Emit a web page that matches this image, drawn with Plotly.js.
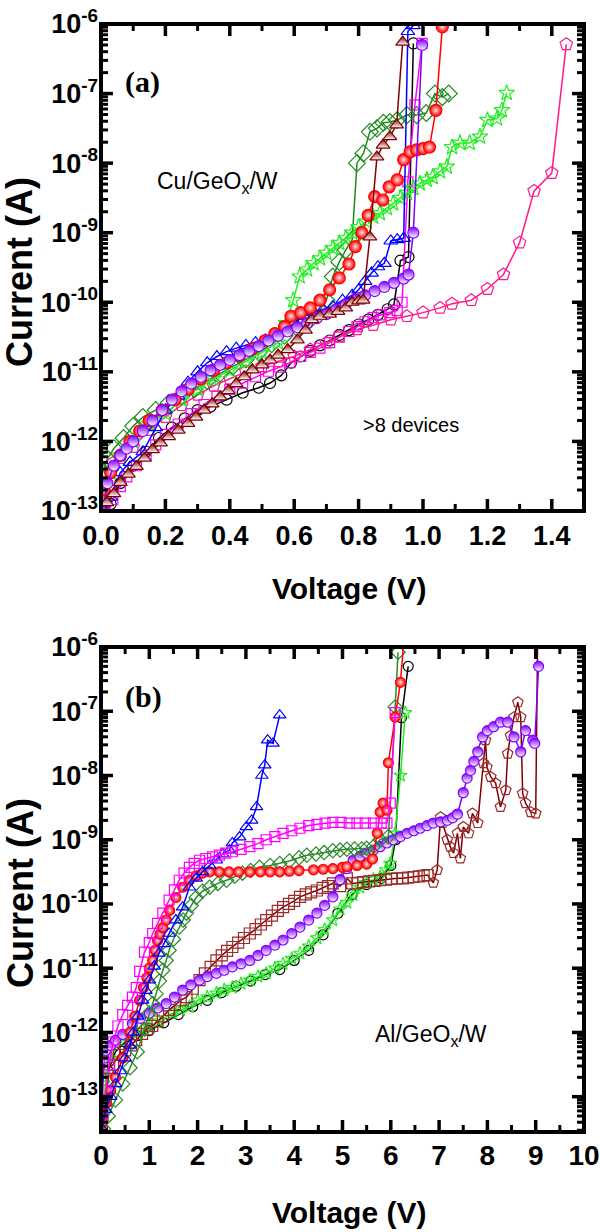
<!DOCTYPE html>
<html><head><meta charset="utf-8">
<script src="https://cdn.plot.ly/plotly-3.0.1.min.js"></script>
<style>html,body{margin:0;padding:0;background:#fff}#chart{width:600px;height:1232px}</style>
</head><body><div id="chart"></div>
<script>
// ---------- Panel (a): Cu/GeOx/W ----------
const aBlackV = [0.01,0.03,0.06,0.10,0.14,0.18,0.22,0.26,0.30,0.34,0.39,0.44,0.49,0.525,0.56,0.59,0.62,0.65,0.68,0.71,0.74,0.77,0.80,0.83,0.86,0.89,0.91,0.93,0.955,0.97];
const aBlackI = [7.9e-14,1.26e-13,2.51e-13,4.47e-13,7.1e-13,1.12e-12,1.58e-12,2.14e-12,2.82e-12,3.16e-12,3.98e-12,5.0e-12,5.9e-12,6.9e-12,8.9e-12,1.35e-11,1.66e-11,2.0e-11,2.4e-11,2.82e-11,3.39e-11,3.98e-11,4.79e-11,5.62e-11,6.6e-11,7.94e-11,9.3e-11,3.98e-10,4.47e-10,5.25e-7];

const aMagV = [0.01,0.037,0.06,0.08,0.11,0.14,0.17,0.20,0.24,0.28,0.32,0.36,0.40,0.44,0.48,0.52,0.555,0.587,0.62,0.65,0.68,0.71,0.74,0.77,0.795,0.82,0.845,0.87,0.897,0.92,0.935,0.953,0.975,0.997];
const aMagI = [6.3e-14,1.45e-13,2.24e-13,3.09e-13,4.47e-13,6.3e-13,8.9e-13,1.26e-12,1.78e-12,2.51e-12,3.39e-12,4.47e-12,5.62e-12,6.9e-12,8.5e-12,1.02e-11,1.17e-11,1.35e-11,1.66e-11,1.9e-11,2.19e-11,2.63e-11,3.16e-11,3.8e-11,4.47e-11,5.25e-11,6.0e-11,6.6e-11,7.1e-11,7.6e-11,1.0e-10,5.4e-9,6.9e-8,5.25e-7];

const aPinkV = [0.01,0.037,0.06,0.10,0.15,0.20,0.25,0.30,0.35,0.40,0.45,0.50,0.55,0.60,0.65,0.70,0.74,0.795,0.845,0.90,0.95,1.0,1.053,1.09,1.15,1.2,1.25,1.30,1.345,1.40,1.445];
const aPinkI = [1.26e-13,4.9e-13,5.75e-13,8.3e-13,1.45e-12,2.24e-12,3.31e-12,4.68e-12,6.3e-12,7.94e-12,1.0e-11,1.2e-11,1.41e-11,1.66e-11,2.09e-11,2.63e-11,3.24e-11,4.07e-11,4.68e-11,5.62e-11,6.3e-11,7.1e-11,8.3e-11,9.5e-11,1.07e-10,1.55e-10,2.51e-10,7.2e-10,3.98e-9,7.2e-9,5.1e-7];

const aDiaV = [0.005,0.02,0.04,0.07,0.10,0.13,0.17,0.21,0.25,0.29,0.33,0.37,0.41,0.45,0.49,0.53,0.57,0.61,0.65,0.68,0.70,0.72,0.74,0.76,0.78,0.795,0.815,0.835,0.857,0.877,0.897,0.92,0.95,0.98,1.01,1.037,1.06,1.08];
const aDiaI = [3.55e-13,5.62e-13,7.94e-13,1.12e-12,1.66e-12,2.24e-12,2.82e-12,3.55e-12,4.47e-12,5.62e-12,7.4e-12,9.5e-12,1.2e-11,1.51e-11,1.9e-11,2.5e-11,3.3e-11,4.2e-11,5.62e-11,7.8e-11,1.07e-10,2.34e-10,3.8e-10,5.62e-10,7.94e-10,1.0e-8,1.38e-8,2.82e-8,3.16e-8,3.8e-8,3.9e-8,4.17e-8,4.9e-8,4.9e-8,5.25e-8,1.0e-7,8.9e-8,1.0e-7];

const aStarV = [0.005,0.03,0.06,0.10,0.15,0.20,0.25,0.30,0.35,0.40,0.45,0.50,0.55,0.575,0.597,0.617,0.64,0.66,0.68,0.70,0.72,0.74,0.76,0.78,0.80,0.825,0.845,0.866,0.888,0.907,0.93,0.95,0.97,0.99,1.012,1.03,1.053,1.074,1.09,1.115,1.145,1.177,1.20,1.23,1.245,1.26];
const aStarI = [1.58e-13,3.55e-13,6.3e-13,1.0e-12,1.78e-12,2.51e-12,3.98e-12,5.62e-12,7.94e-12,1.05e-11,1.41e-11,1.9e-11,2.63e-11,5.0e-11,1.07e-10,2.34e-10,2.95e-10,3.63e-10,4.27e-10,5.1e-10,6.0e-10,7.1e-10,8.3e-10,1.0e-9,1.2e-9,1.45e-9,1.7e-9,1.9e-9,2.24e-9,2.63e-9,3.16e-9,3.72e-9,4.37e-9,5.1e-9,5.75e-9,6.3e-9,7.6e-9,8.9e-9,1.7e-8,1.95e-8,1.95e-8,2.4e-8,4.17e-8,4.37e-8,5.75e-8,1.02e-7];

const aBlueV = [0.01,0.03,0.06,0.09,0.13,0.17,0.20,0.24,0.27,0.30,0.33,0.36,0.39,0.42,0.45,0.48,0.51,0.54,0.57,0.60,0.63,0.66,0.69,0.72,0.75,0.78,0.80,0.82,0.84,0.86,0.88,0.90,0.92,0.94,0.953,0.97];
const aBlueI = [7.9e-14,1.58e-13,3.55e-13,5.0e-13,7.1e-13,1.58e-12,2.82e-12,4.47e-12,7.1e-12,1.0e-11,1.35e-11,1.66e-11,1.95e-11,2.19e-11,2.4e-11,2.63e-11,2.88e-11,3.24e-11,3.98e-11,5.0e-11,6.3e-11,7.2e-11,7.94e-11,8.7e-11,1.07e-10,1.26e-10,1.51e-10,2.0e-10,2.63e-10,3.24e-10,3.63e-10,7.6e-10,7.94e-10,8.3e-10,7.8e-7,9.5e-7];

const aRedV = [0.01,0.03,0.06,0.09,0.12,0.15,0.19,0.23,0.27,0.31,0.35,0.39,0.43,0.47,0.51,0.54,0.57,0.59,0.62,0.65,0.68,0.71,0.74,0.77,0.79,0.81,0.83,0.85,0.875,0.895,0.92,0.94,0.96,0.98,1.0,1.02,1.04,1.06];
const aRedI = [2.0e-13,3.55e-13,6.3e-13,1.0e-12,1.41e-12,2.0e-12,2.82e-12,3.98e-12,5.62e-12,7.94e-12,1.05e-11,1.35e-11,1.7e-11,2.14e-11,2.82e-11,3.55e-11,4.47e-11,6.3e-11,7.08e-11,8.3e-11,1.07e-10,1.51e-10,2.24e-10,3.55e-10,6.3e-10,1.0e-9,1.78e-9,3.3e-9,2.95e-9,4.57e-9,5.75e-9,1.12e-8,1.45e-8,1.55e-8,1.62e-8,1.7e-8,5.75e-8,9.1e-7];

const aPurV = [0.005,0.02,0.04,0.06,0.08,0.10,0.13,0.16,0.19,0.22,0.25,0.28,0.31,0.34,0.37,0.40,0.43,0.46,0.49,0.52,0.55,0.58,0.61,0.64,0.67,0.70,0.73,0.76,0.79,0.82,0.85,0.88,0.91,0.94,0.955,0.97,0.997];
const aPurI = [1.0e-13,2.5e-13,4.5e-13,6.3e-13,7.9e-13,1.0e-12,1.41e-12,2.0e-12,2.82e-12,3.98e-12,5.25e-12,6.76e-12,8.5e-12,1.05e-11,1.26e-11,1.48e-11,1.74e-11,2.0e-11,2.34e-11,2.82e-11,3.31e-11,3.8e-11,4.37e-11,5.0e-11,5.9e-11,6.76e-11,7.94e-11,9.3e-11,1.1e-10,1.26e-10,1.45e-10,1.66e-10,1.9e-10,2.19e-10,2.5e-10,1.0e-9,5.0e-7];

const aMarV = [0.005,0.018,0.04,0.06,0.085,0.11,0.135,0.16,0.185,0.21,0.24,0.27,0.295,0.32,0.345,0.37,0.395,0.42,0.445,0.47,0.50,0.525,0.55,0.58,0.61,0.635,0.655,0.68,0.71,0.736,0.76,0.78,0.80,0.814,0.835,0.857,0.876,0.897,0.918,0.937];
const aMarI = [6.3e-14,1.32e-13,1.78e-13,2.57e-13,3.39e-13,4.37e-13,5.75e-13,7.6e-13,9.5e-13,1.17e-12,1.45e-12,1.82e-12,2.24e-12,2.82e-12,3.47e-12,4.37e-12,5.37e-12,6.76e-12,8.5e-12,1.07e-11,1.26e-11,1.48e-11,1.74e-11,2.09e-11,2.88e-11,3.98e-11,5.62e-11,6.3e-11,6.76e-11,7.4e-11,8.3e-11,1.0e-10,1.05e-10,1.07e-10,8.7e-10,1.23e-8,1.82e-8,2.4e-8,3.55e-8,5.5e-7];

// ---------- Panel (b): Al/GeOx/W ----------
const bBlackV = [0.03,0.15,0.3,0.5,0.75,1.0,1.3,1.6,1.9,2.2,2.5,2.8,3.1,3.4,3.7,4.0,4.3,4.6,4.9,5.2,5.5,5.8,6.0,6.1,6.22,6.36];
const bBlackI = [3.16e-14,2.51e-13,5.0e-13,7.1e-13,8.9e-13,1.07e-12,1.41e-12,1.9e-12,2.51e-12,3.16e-12,4.17e-12,5.25e-12,6.3e-12,7.94e-12,9.5e-12,1.32e-11,1.9e-11,3.31e-11,7.1e-11,1.41e-10,2.0e-10,2.51e-10,3.98e-10,1.0e-9,7.94e-8,5.0e-7];

const bStarV = [0.03,0.1,0.2,0.37,0.55,0.75,1.0,1.2,1.48,1.65,1.83,2.0,2.2,2.39,2.55,2.72,2.9,3.08,3.25,3.42,3.6,3.77,3.95,4.12,4.3,4.47,4.63,4.8,4.95,5.09,5.22,5.36,5.5,5.64,5.78,5.9,5.99,6.09,6.2,6.3];
const bStarI = [4.0e-14,2.0e-13,3.98e-13,7.6e-13,8.9e-13,1.0e-12,1.2e-12,1.51e-12,2.0e-12,2.24e-12,2.51e-12,3.16e-12,3.55e-12,4.07e-12,4.57e-12,5.0e-12,5.75e-12,6.5e-12,7.4e-12,8.3e-12,1.0e-11,1.17e-11,1.41e-11,1.7e-11,2.19e-11,2.95e-11,3.98e-11,5.62e-11,8.3e-11,1.05e-10,1.38e-10,1.82e-10,2.14e-10,2.4e-10,2.63e-10,3.39e-10,4.27e-10,1.26e-9,1.0e-8,9.5e-8];

const bBrownV = [0.03,0.1,0.17,0.25,0.37,0.5,0.62,0.73,0.85,0.95,1.06,1.17,1.28,1.41,1.53,1.65,1.77,1.9,2.04,2.15,2.27,2.39,2.5,2.61,2.72,2.84,2.96,3.08,3.2,3.31,3.42,3.54,3.66,3.77,3.89,4.0,4.12,4.24,4.35,4.47,4.59,4.7,4.8,4.95,5.09,5.2,5.31,5.43,5.55,5.66,5.78,5.9,6.01,6.13,6.25,6.36,6.47,6.58,6.68,6.76,
  6.88,6.96,7.03,7.07,7.17,7.23,7.3,7.38,7.44,7.5,7.61,7.69,7.8,7.92,7.96,7.99,8.07,8.17,8.27,8.38,8.42,8.48,8.55,8.63,8.69,8.73,8.79,8.9,9.0,9.04];
const bBrownI = [5.0e-14,8.7e-14,2.8e-13,3.16e-13,4.47e-13,5.25e-13,6.3e-13,7.6e-13,9.5e-13,1.12e-12,1.26e-12,1.48e-12,1.78e-12,2.24e-12,2.69e-12,3.16e-12,3.55e-12,4.79e-12,6.5e-12,8.3e-12,1.05e-11,1.32e-11,1.58e-11,1.86e-11,2.14e-11,2.51e-11,2.95e-11,3.47e-11,4.07e-11,4.79e-11,5.62e-11,6.6e-11,7.8e-11,8.9e-11,1.0e-10,1.12e-10,1.29e-10,1.41e-10,1.51e-10,1.62e-10,1.78e-10,1.9e-10,2.09e-10,1.9e-10,2.51e-10,2.09e-10,2.14e-10,2.19e-10,2.24e-10,2.29e-10,2.34e-10,2.4e-10,2.45e-10,2.51e-10,2.51e-10,2.57e-10,2.63e-10,2.69e-10,2.75e-10,2.82e-10,
  2.14e-10,3.39e-10,2.24e-9,1.82e-9,1.0e-9,7.8e-10,6.2e-10,1.26e-9,5.1e-10,1.58e-9,1.26e-9,2.57e-9,1.82e-9,1.55e-8,3.55e-8,1.35e-8,9.5e-9,7.6e-9,3.24e-9,5.9e-9,2.19e-8,4.17e-8,8.1e-8,1.38e-7,8.1e-8,5.25e-9,3.72e-9,2.69e-9,2.57e-9,1.26e-6];

const bPurV = [0.02,0.06,0.1,0.2,0.3,0.45,0.65,0.82,1.0,1.17,1.35,1.52,1.69,1.86,2.04,2.2,2.39,2.55,2.72,2.9,3.08,3.25,3.42,3.6,3.77,3.95,4.12,4.3,4.47,4.63,4.8,4.95,5.09,5.22,5.36,5.5,5.64,5.78,5.92,6.05,6.2,6.34,6.48,6.61,6.75,6.88,7.03,7.17,7.28,7.38,7.5,7.58,7.65,7.72,7.8,7.9,8.0,8.13,8.27,8.42,8.55,8.69,8.79,8.94,8.98,9.06];
const bPurI = [5.0e-14,3.98e-13,5.25e-13,6.3e-13,7.6e-13,9.3e-13,1.38e-12,1.66e-12,2.0e-12,2.4e-12,2.82e-12,3.55e-12,4.57e-12,5.5e-12,6.5e-12,7.4e-12,8.3e-12,9.3e-12,1.05e-11,1.17e-11,1.32e-11,1.58e-11,1.9e-11,2.29e-11,2.75e-11,3.47e-11,4.37e-11,5.62e-11,7.2e-11,9.5e-11,1.29e-10,2.4e-10,3.55e-10,4.79e-10,5.5e-10,6.2e-10,6.9e-10,7.8e-10,8.9e-10,1.0e-9,1.12e-9,1.26e-9,1.38e-9,1.51e-9,1.66e-9,1.82e-9,1.9e-9,2.0e-9,2.19e-9,2.51e-9,5.4e-9,9.1e-9,1.2e-8,1.66e-8,2.34e-8,3.98e-8,5.0e-8,5.75e-8,6.76e-8,6.76e-8,3.98e-8,2.34e-8,5.0e-8,3.55e-8,3.16e-8,5.0e-7];

const bDiaV = [0.05,0.15,0.3,0.45,0.6,0.75,0.9,1.0,1.07,1.14,1.21,1.28,1.35,1.41,1.5,1.62,1.7,1.77,1.87,1.97,2.1,2.25,2.42,2.6,2.77,2.93,3.1,3.28,3.5,3.7,3.9,4.1,4.26,4.45,4.62,4.8,4.95,5.09,5.25,5.4,5.5,5.65,5.78,5.95,6.09,6.15];
const bDiaI = [3.16e-14,5.0e-14,8.9e-14,1.58e-13,2.82e-13,5.0e-13,1.12e-12,2.0e-12,2.82e-12,3.98e-12,6.3e-12,9.3e-12,1.32e-11,1.9e-11,2.82e-11,4.37e-11,5.62e-11,7.2e-11,9.5e-11,1.26e-10,1.58e-10,1.82e-10,2.09e-10,2.34e-10,2.69e-10,3.02e-10,3.31e-10,3.72e-10,3.98e-10,4.27e-10,4.68e-10,5.25e-10,5.75e-10,6.0e-10,6.3e-10,6.76e-10,6.9e-10,7.1e-10,7.2e-10,7.2e-10,7.4e-10,7.94e-10,1.0e-9,1.12e-9,1.17e-7,8.3e-7];

const bRedV = [0.03,0.1,0.2,0.3,0.45,0.6,0.7,0.8,0.88,0.95,1.0,1.07,1.12,1.17,1.22,1.28,1.35,1.42,1.55,1.69,1.83,1.97,2.1,2.25,2.45,2.65,2.85,3.08,3.3,3.5,3.7,3.9,4.1,4.4,4.6,4.8,5.0,5.09,5.3,5.5,5.62,5.72,5.78,5.84,5.92,5.95,6.09,6.2,6.27];
const bRedI = [4.0e-14,7.9e-14,1.26e-13,2.0e-13,3.98e-13,1.0e-12,1.78e-12,3.16e-12,5.0e-12,7.1e-12,1.0e-11,1.32e-11,1.9e-11,2.69e-11,3.39e-11,4.27e-11,5.62e-11,7.94e-11,1.26e-10,1.82e-10,2.34e-10,2.75e-10,3.02e-10,3.16e-10,3.16e-10,3.16e-10,3.16e-10,3.16e-10,3.16e-10,3.16e-10,3.16e-10,3.24e-10,3.31e-10,3.39e-10,3.47e-10,3.55e-10,3.72e-10,3.8e-10,3.98e-10,4.17e-10,5.0e-10,1.26e-9,2.69e-9,3.72e-9,2.88e-9,1.58e-8,8.1e-8,2.82e-7,1.26e-6];

const bBlueV = [0.02,0.1,0.2,0.3,0.4,0.5,0.6,0.67,0.76,0.86,0.93,1.0,1.1,1.2,1.3,1.41,1.55,1.69,1.83,1.97,2.1,2.25,2.39,2.52,2.66,2.72,2.87,3.01,3.12,3.22,3.33,3.39,3.45,3.56,3.70];
const bBlueI = [3.16e-14,6.3e-14,1.0e-13,1.58e-13,2.51e-13,3.98e-13,6.3e-13,1.0e-12,1.78e-12,3.16e-12,4.47e-12,6.5e-12,1.07e-11,1.7e-11,2.4e-11,3.47e-11,5.62e-11,8.9e-11,1.82e-10,2.51e-10,3.16e-10,3.98e-10,4.79e-10,6.0e-10,6.9e-10,8.9e-10,1.1e-9,1.58e-9,2.0e-9,3.24e-9,1.0e-8,1.45e-8,3.55e-8,3.16e-8,8.7e-8];

const bMagV = [0.03,0.1,0.17,0.25,0.35,0.45,0.55,0.65,0.73,0.8,0.9,1.0,1.07,1.17,1.28,1.41,1.52,1.62,1.72,1.83,1.93,2.04,2.17,2.31,2.45,2.58,2.72,2.9,3.08,3.25,3.42,3.6,3.77,3.95,4.12,4.3,4.47,4.64,4.8,4.97,5.14,5.3,5.47,5.64,5.8,5.92,5.99,6.09];
const bMagI = [5.0e-14,1.26e-13,3.16e-13,7.1e-13,1.26e-12,1.9e-12,2.63e-12,3.55e-12,5.0e-12,8.9e-12,1.78e-11,2.51e-11,3.47e-11,5.0e-11,7.2e-11,1.15e-10,1.66e-10,2.34e-10,3.02e-10,3.72e-10,4.27e-10,4.79e-10,5.1e-10,5.4e-10,5.75e-10,6.2e-10,6.5e-10,7.1e-10,7.8e-10,8.7e-10,1.0e-9,1.12e-9,1.26e-9,1.38e-9,1.51e-9,1.66e-9,1.74e-9,1.82e-9,1.86e-9,1.86e-9,1.82e-9,1.82e-9,1.82e-9,1.82e-9,1.82e-9,1.82e-9,3.72e-9,9.5e-8];

// ---------- axis tick labels ----------
const decadeVals = [1e-13,1e-12,1e-11,1e-10,1e-9,1e-8,1e-7,1e-6];
const decadeText = ['10<sup>-13</sup>','10<sup>-12</sup>','10<sup>-11</sup>','10<sup>-10</sup>','10<sup>-9</sup>','10<sup>-8</sup>','10<sup>-7</sup>','10<sup>-6</sup>'];

const SANS = 'Liberation Sans, Arial, sans-serif';
const SERIF = 'Liberation Serif, Times New Roman, serif';

function tr(x, y, ax, color, symbol, size, extra) {
  const t = {
    x: x, y: y, xaxis: ax[0], yaxis: ax[1], type: 'scatter', mode: 'lines+markers',
    line: {color: color, width: 1.5},
    marker: {symbol: symbol, size: size, color: color, line: {color: color, width: 1.2}},
    hoverinfo: 'skip', showlegend: false
  };
  if (extra) Object.assign(t.marker, extra);
  return t;
}
const A = ['x', 'y'], B = ['x2', 'y2'];
const sphere = {gradient: {type: 'radial', color: '#ffe0e0'}};
const halfP = {gradient: {type: 'vertical', color: '#ffffff'}};

const brownSym = bBrownV.map(v => v < 6.8 ? 'square-open' : 'pentagon-open');

const data = [
  tr(aBlackV, aBlackI, A, '#000000', 'circle-open', 11),
  tr(aMagV, aMagI, A, '#ff00ff', 'square-open', 10),
  tr(aPinkV, aPinkI, A, '#ff1a8c', 'pentagon-open', 13),
  tr(aDiaV, aDiaI, A, '#1e8c1e', 'diamond-open', 13),
  tr(aStarV, aStarI, A, '#22ee22', 'star-open', 12),
  tr(aBlueV, aBlueI, A, '#0000ff', 'triangle-up-open', 12),
  tr(aRedV, aRedI, A, '#ff0000', 'circle', 12, sphere),
  tr(aPurV, aPurI, A, '#8000ff', 'circle', 11, halfP),
  tr(aMarV, aMarI, A, '#800000', 'triangle-up', 12, halfP),

  tr(bBlackV, bBlackI, B, '#000000', 'circle-open', 10),
  tr(bStarV, bStarI, B, '#22ee22', 'star-open', 10),
  tr(bBrownV, bBrownI, B, '#9b2a2a', brownSym, 11),
  tr(bPurV, bPurI, B, '#8000ff', 'circle', 10, halfP),
  tr(bDiaV, bDiaI, B, '#2a8a2a', 'diamond-open', 11),
  tr(bRedV, bRedI, B, '#ff0000', 'circle', 10, sphere),
  tr(bBlueV, bBlueI, B, '#0000ff', 'triangle-up-open', 11),
  tr(bMagV, bMagI, B, '#ff00ff', 'square-open', 10)
];
data[11].line.color = '#800000';

// ---------- inward tick marks on all four sides (shapes in axis-domain units) ----------
const PLOT_W = 483, PLOT_H_A = 487, PLOT_H_B = 485;
const MAJ = 12, MIN = 7, MAJW = 3.5, MINW = 3;
const shapes = [];
function xTicks(xa, ya, vals, len, w, plotH) {
  const f = len / plotH;
  vals.forEach(v => {
    shapes.push({type: 'line', layer: 'above', xref: xa, x0: v, x1: v, yref: ya + ' domain', y0: 0, y1: f, line: {color: '#000', width: w}});
    shapes.push({type: 'line', layer: 'above', xref: xa, x0: v, x1: v, yref: ya + ' domain', y0: 1 - f, y1: 1, line: {color: '#000', width: w}});
  });
}
function yTicks(xa, ya, fracs, len, w) {
  const f = len / PLOT_W;
  fracs.forEach(p => {
    shapes.push({type: 'line', layer: 'above', yref: ya + ' domain', y0: p, y1: p, xref: xa + ' domain', x0: 0, x1: f, line: {color: '#000', width: w}});
    shapes.push({type: 'line', layer: 'above', yref: ya + ' domain', y0: p, y1: p, xref: xa + ' domain', x0: 1 - f, x1: 1, line: {color: '#000', width: w}});
  });
}
function logFracs(lo, hi, minor) {
  const out = [];
  for (let e = Math.floor(lo); e < hi; e++) {
    const ms = minor ? [2,3,4,5,6,7,8,9] : [1];
    ms.forEach(m => { const l = e + Math.log10(m); if (l > lo + 1e-6 && l < hi - 1e-6) out.push((l - lo) / (hi - lo)); });
  }
  return out;
}
function linVals(start, stop, step) { const out = []; for (let v = start; v <= stop + 1e-9; v += step) out.push(+v.toFixed(4)); return out; }

xTicks('x', 'y', linVals(0.2, 1.4, 0.2), MAJ, MAJW, PLOT_H_A);
xTicks('x', 'y', linVals(0.1, 1.4, 0.2), MIN, MINW, PLOT_H_A);
yTicks('x', 'y', logFracs(-13, -6, false), MAJ, MAJW);
yTicks('x', 'y', logFracs(-13, -6, true), MIN, MINW);
xTicks('x2', 'y2', linVals(1, 9, 1), MAJ, MAJW, PLOT_H_B);
xTicks('x2', 'y2', linVals(0.5, 9.5, 1), MIN, MINW, PLOT_H_B);
yTicks('x2', 'y2', logFracs(-13.55, -6, false), MAJ, MAJW);
yTicks('x2', 'y2', logFracs(-13.55, -6, true), MIN, MINW);
['', '2'].forEach(s => shapes.push({type: 'rect', layer: 'above', xref: 'x' + s + ' domain', yref: 'y' + s + ' domain', x0: 0, x1: 1, y0: 0, y1: 1, line: {color: '#000', width: 4}, fillcolor: 'rgba(0,0,0,0)'}));

const axBase = {
  showline: false, ticks: '', showgrid: false, zeroline: false, ticklabeloverflow: 'allow'
};
const yBase = Object.assign({}, axBase, {
  type: 'log', tickmode: 'array', tickvals: decadeVals, ticktext: decadeText,
  tickfont: {family: SANS, size: 27, weight: 'bold', color: '#000'}
});

const layout = {
  width: 600, height: 1232,
  margin: {l: 101, r: 16, t: 24, b: 100},
  paper_bgcolor: '#fff', plot_bgcolor: '#fff',
  shapes: shapes,
  xaxis: Object.assign({}, axBase, {
    domain: [0, 1], anchor: 'y', range: [0, 1.5], tick0: 0, dtick: 0.2, tickformat: '.1f', ticklabelstandoff: 6,
    tickfont: {family: SANS, size: 27, weight: 'bold', color: '#000'}
  }),
  yaxis: Object.assign({}, yBase, {domain: [0.5605, 1], anchor: 'x', range: [-13, -6], ticklabelstandoff: 2}),
  xaxis2: Object.assign({}, axBase, {
    domain: [0, 1], anchor: 'y2', range: [0, 10], tick0: 0, dtick: 1, ticklabelstandoff: 4,
    tickfont: {family: SANS, size: 28, weight: 'bold', color: '#000'}
  }),
  yaxis2: Object.assign({}, yBase, {domain: [0, 0.4377], anchor: 'x2', range: [-13.55, -6], ticklabelstandoff: 2}),
  annotations: [
    {text: '(a)', xref: 'paper', yref: 'paper', x: 0.0849, y: 0.9477, xanchor: 'center', yanchor: 'middle', showarrow: false,
     font: {family: SERIF, size: 30, weight: 'bold', color: '#000'}},
    {text: 'Cu/GeO<sub>x</sub>/W', xref: 'paper', yref: 'paper', x: 0.1118, y: 0.8565, xanchor: 'left', yanchor: 'middle', showarrow: false,
     font: {family: SANS, size: 23, color: '#000'}},
    {text: '>8 devices', xref: 'paper', yref: 'paper', x: 0.5383, y: 0.6381, xanchor: 'left', yanchor: 'middle', showarrow: false,
     font: {family: SANS, size: 20, color: '#000'}},
    {text: '(b)', xref: 'paper', yref: 'paper', x: 0.089, y: 0.3926, xanchor: 'center', yanchor: 'middle', showarrow: false,
     font: {family: SERIF, size: 30, weight: 'bold', color: '#000'}},
    {text: 'Al/GeO<sub>x</sub>/W', xref: 'paper', yref: 'paper', x: 0.5631, y: 0.0875, xanchor: 'left', yanchor: 'middle', showarrow: false,
     font: {family: SANS, size: 23, color: '#000'}},
    {text: 'Current (A)', xref: 'paper', yref: 'paper', x: -0.1677, y: 0.7762, xanchor: 'center', yanchor: 'middle', textangle: -90, showarrow: false,
     font: {family: SANS, size: 36, weight: 'bold', color: '#000'}},
    {text: 'Current (A)', xref: 'paper', yref: 'paper', x: -0.1677, y: 0.2157, xanchor: 'center', yanchor: 'middle', textangle: -90, showarrow: false,
     font: {family: SANS, size: 36, weight: 'bold', color: '#000'}},
    {text: 'Voltage (V)', xref: 'paper', yref: 'paper', x: 0.5135, y: 0.4901, xanchor: 'center', yanchor: 'middle', showarrow: false,
     font: {family: SANS, size: 30, weight: 'bold', color: '#000'}},
    {text: 'Voltage (V)', xref: 'paper', yref: 'paper', x: 0.5135, y: -0.0731, xanchor: 'center', yanchor: 'middle', showarrow: false,
     font: {family: SANS, size: 30, weight: 'bold', color: '#000'}}
  ]
};

Plotly.newPlot('chart', data, layout, {staticPlot: true, displayModeBar: false});
</script>
</body></html>
